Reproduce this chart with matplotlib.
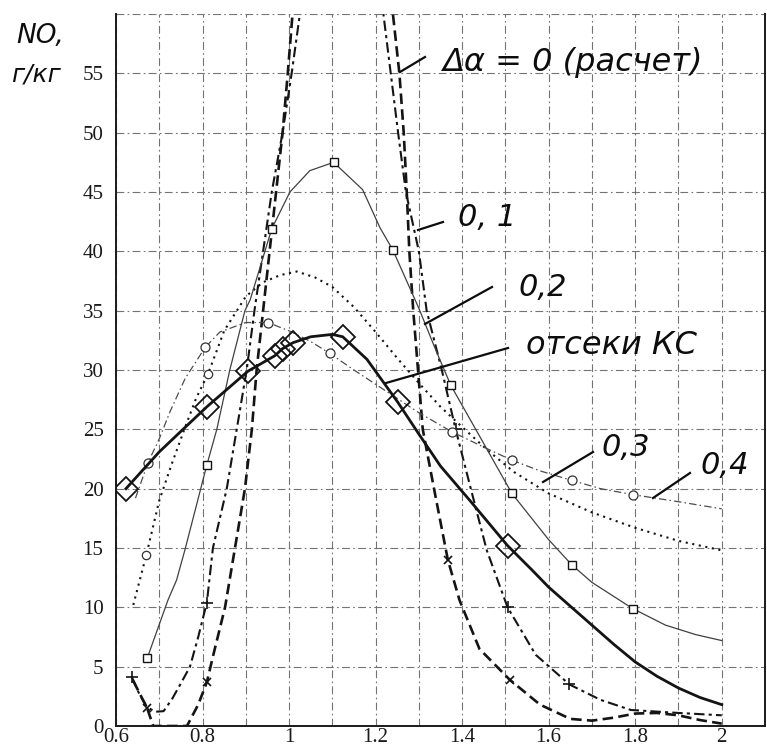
import numpy as np
import matplotlib
matplotlib.use("Agg")
import matplotlib.pyplot as plt

# ---------------- data ----------------
# Δα = 0 (расчет) – heavy dashed
x_d0 = [0.64, 0.672, 0.686, 0.764, 0.79, 0.81, 0.825, 0.852, 0.875, 0.898, 0.914, 0.925,
        0.94, 0.955, 0.97, 0.985, 0.997, 1.008, 1.05, 1.12, 1.2, 1.24, 1.255, 1.265, 1.272,
        1.278, 1.287, 1.298, 1.309, 1.335, 1.367, 1.394, 1.44, 1.51, 1.58, 1.65, 1.7, 1.75,
        1.8, 1.85, 1.9, 1.95, 2.0]
y_d0 = [3.8, 1.5, 0.0, 0.0, 1.8, 3.7, 6.0, 10.0, 15.0, 20.0, 25.0, 30.0,
        35.0, 40.0, 45.0, 50.0, 55.0, 60.0, 72.0, 80.0, 72.0, 60.0, 55.0, 50.0, 45.0,
        40.0, 35.0, 30.0, 25.0, 20.0, 14.0, 10.6, 6.5, 3.9, 1.8, 0.6, 0.45, 0.7,
        1.05, 1.1, 0.9, 0.5, 0.2]
mk_d0 = [1, 5, 30, 33]

# Δα = 0.1 – dash-dot
x_d1 = [0.637, 0.655, 0.672, 0.69, 0.71, 0.73, 0.75, 0.771, 0.79, 0.81, 0.824, 0.856,
        0.879, 0.902, 0.92, 0.94, 0.96, 0.985, 1.006, 1.025, 1.07, 1.13, 1.19, 1.218,
        1.235, 1.252, 1.27, 1.30, 1.318, 1.353, 1.385, 1.42, 1.457, 1.505, 1.57, 1.648,
        1.72, 1.79, 1.9, 2.0]
y_d1 = [4.1, 2.6, 1.6, 1.2, 1.25, 2.3, 3.6, 5.0, 7.5, 10.4, 15.0, 20.0,
        25.0, 30.0, 35.0, 40.0, 45.0, 50.0, 55.0, 60.0, 68.0, 72.0, 66.0, 60.0,
        55.0, 50.0, 45.0, 40.0, 35.0, 30.0, 25.0, 20.0, 14.8, 10.0, 6.0, 3.5,
        2.2, 1.35, 1.1, 0.9]
mk_d1 = [0, 9, 30, 33, 35]

# Δα = 0.2 – thin solid with squares
x_d2 = [0.672, 0.72, 0.74, 0.759, 0.81, 0.833, 0.863, 0.898, 0.91, 0.96, 1.002, 1.048,
        1.103, 1.17, 1.21, 1.24, 1.30, 1.34, 1.374, 1.45, 1.515, 1.6, 1.653, 1.7, 1.794,
        1.87, 1.94, 2.0]
y_d2 = [5.7, 10.6, 12.3, 14.8, 22.0, 25.0, 30.0, 35.0, 35.9, 41.9, 45.0, 46.8,
        47.5, 45.2, 42.0, 40.1, 35.2, 31.6, 28.7, 23.8, 19.6, 15.7, 13.6, 12.1, 9.9,
        8.5, 7.7, 7.2]
mk_d2 = [0, 4, 9, 12, 15, 18, 20, 22, 24]

# Δα = 0.3 – dotted
x_d3 = [0.64, 0.67, 0.7, 0.73, 0.76, 0.785, 0.813, 0.85, 0.9, 0.94, 0.98, 1.018, 1.06,
        1.1, 1.15, 1.2, 1.25, 1.3, 1.35, 1.4, 1.46, 1.52, 1.6, 1.7, 1.8, 1.9, 2.0]
y_d3 = [10.2, 14.4, 19.0, 22.2, 25.2, 27.6, 29.7, 33.3, 36.2, 37.4, 38.0, 38.3, 37.8,
        37.0, 35.3, 33.2, 31.0, 28.9, 26.9, 25.2, 23.2, 21.4, 19.6, 18.0, 16.7, 15.6, 14.8]
mk_d3 = [1, 6]

# Δα = 0.4 – thin dash-dot with circles
x_d4 = [0.645, 0.674, 0.7, 0.725, 0.76, 0.806, 0.84, 0.9, 0.951, 1.0, 1.05, 1.094, 1.15,
        1.2, 1.25, 1.3, 1.376, 1.45, 1.515, 1.58, 1.653, 1.72, 1.794, 1.9, 2.0]
y_d4 = [19.2, 22.2, 24.2, 26.5, 29.3, 31.9, 33.2, 34.0, 34.0, 33.3, 32.4, 31.4, 30.0,
        28.8, 27.6, 26.4, 24.8, 23.5, 22.4, 21.5, 20.7, 20.0, 19.5, 18.9, 18.3]
mk_d4 = [1, 5, 8, 11, 16, 18, 20, 22]

# отсеки КС – thick solid with diamonds
x_ks = [0.623, 0.7, 0.752, 0.81, 0.905, 0.967, 0.985, 1.009, 1.05, 1.1, 1.124, 1.18,
        1.251, 1.3, 1.35, 1.418, 1.505, 1.56, 1.6, 1.653, 1.7, 1.75, 1.8, 1.85, 1.9,
        1.95, 2.0]
y_ks = [20.0, 23.1, 24.9, 26.9, 29.9, 31.2, 31.8, 32.3, 32.8, 33.0, 32.8, 30.9,
        27.3, 24.6, 21.9, 19.0, 15.2, 13.2, 11.7, 10.0, 8.5, 6.9, 5.4, 4.2, 3.2,
        2.4, 1.8]
mk_ks = [0, 3, 4, 5, 6, 7, 10, 12, 16]

x_ticks = [0.6, 0.8, 1.0, 1.2, 1.4, 1.6, 1.8, 2.0]
x_tick_labels = ["0.6", "0.8", "1", "1.2", "1.4", "1.6", "1.8", "2"]
y_ticks = [0, 5, 10, 15, 20, 25, 30, 35, 40, 45, 50, 55]

# ---------------- figure ----------------
W, H = 767, 753
fig = plt.figure(figsize=(W / 100, H / 100), dpi=100)
fig.patch.set_facecolor("white")
ax = fig.add_axes([116 / W, 27 / H, 649 / W, 712 / H])
ax.set_xlim(0.6, 2.1)
ax.set_ylim(0, 60)

# grid
ax.set_xticks(x_ticks)
ax.set_xticklabels(x_tick_labels)
ax.set_xticks(np.arange(0.7, 2.1, 0.2), minor=True)
ax.set_yticks(y_ticks)
ax.set_yticks([60], minor=True)
grid_kw = dict(color="0.45", linewidth=0.8, linestyle=(0, (7, 3, 1.5, 3)))
ax.grid(True, which="both", **grid_kw)
ax.set_axisbelow(True)
ax.tick_params(which="both", length=0)
ax.tick_params(axis="y", pad=9)
ax.tick_params(axis="x", pad=1.5)
for lab in ax.get_xticklabels() + ax.get_yticklabels():
    lab.set_fontfamily("Liberation Serif")
    lab.set_fontsize(15)
    lab.set_color("0.1")

for side in ["left", "bottom", "right"]:
    ax.spines[side].set_color("0.1")
    ax.spines[side].set_linewidth(1.4)
ax.spines["top"].set_visible(False)

k = "0.08"
ax.plot(x_d0, y_d0, color=k, lw=1.9, linestyle=(0, (4, 2)), marker="x", ms=6,
        mew=1.2, markevery=mk_d0, zorder=4)
ax.plot(x_d1, y_d1, color=k, lw=1.5, linestyle=(0, (5, 2, 1.5, 2)), marker="+", ms=8,
        mew=1.2, markevery=mk_d1, zorder=4)
ax.plot(x_d2, y_d2, color="0.25", lw=0.9, linestyle="-", marker="s", ms=6,
        mfc="white", mec=k, mew=1.0, markevery=mk_d2, zorder=5)
ax.plot(x_d3, y_d3, color=k, lw=1.5, linestyle=(0, (1, 2.2)), marker="o", ms=6,
        mfc="white", mec="0.2", mew=0.9, markevery=mk_d3, zorder=4)
ax.plot(x_d4, y_d4, color="0.3", lw=0.9, linestyle=(0, (6, 2.5, 1.2, 2.5)), marker="o",
        ms=6.5, mfc="white", mec="0.2", mew=0.9, markevery=mk_d4, zorder=4)
ax.plot(x_ks, y_ks, color=k, lw=2.0, linestyle="-", marker="D", ms=12,
        mfc="none", mec=k, mew=1.3, markevery=mk_ks, zorder=6)

# ---------------- handwritten labels ----------------
def fp(px, py):
    return (px / W, 1 - py / H)

hand = dict(family="DejaVu Sans", style="italic", color="0.05", fontweight="light")
fig.text(*fp(40, 36), "NO,", fontsize=19, ha="center", va="center", **hand)
fig.text(*fp(36, 74), "г/кг", fontsize=18, ha="center", va="center", **hand)
fig.text(*fp(572, 62), "Δα = 0 (расчет)", fontsize=23, ha="center", va="center", **hand)
fig.text(*fp(487, 218), "0, 1", fontsize=22, ha="center", va="center", **hand)
fig.text(*fp(543, 288), "0,2", fontsize=22, ha="center", va="center", **hand)
fig.text(*fp(612, 346), "отсеки КС", fontsize=23, ha="center", va="center", **hand)
fig.text(*fp(626, 447), "0,3", fontsize=22, ha="center", va="center", **hand)
fig.text(*fp(725, 465), "0,4", fontsize=22, ha="center", va="center", **hand)

leaders = [((425, 57), (400, 72)),
           ((443, 222), (418, 230)),
           ((492, 287), (425, 324)),
           ((508, 348), (386, 383)),
           ((593, 452), (543, 482)),
           ((690, 473), (653, 498))]
for (x1, y1), (x2, y2) in leaders:
    fig.add_artist(plt.Line2D([x1 / W, x2 / W], [1 - y1 / H, 1 - y2 / H],
                              color="0.05", lw=1.6, transform=fig.transFigure))

fig.savefig("out.png", dpi=100, facecolor="white")
